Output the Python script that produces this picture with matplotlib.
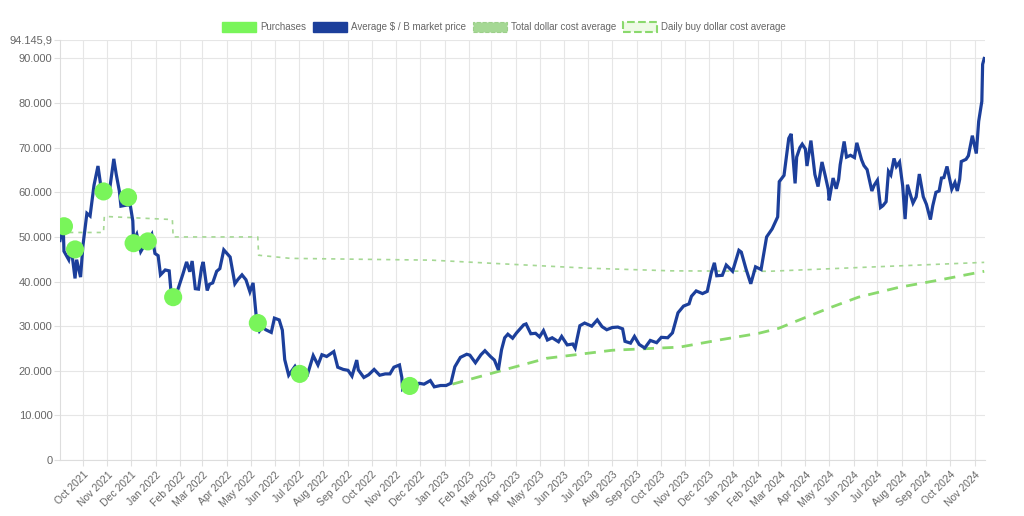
import numpy as np
import matplotlib
matplotlib.use('Agg')
import matplotlib.pyplot as plt
import matplotlib.dates as mdates
from matplotlib.patches import Patch
from matplotlib.ticker import FuncFormatter, FixedLocator

plt.rcParams['font.family'] = ['Liberation Sans', 'DejaVu Sans']

# market price, $ per bitcoin
price_dates = [
    '2021-09-02', '2021-09-06', '2021-09-07', '2021-09-13', '2021-09-16', '2021-09-21', '2021-09-23', '2021-09-28',
    '2021-10-01', '2021-10-06', '2021-10-10', '2021-10-15', '2021-10-20', '2021-10-24', '2021-10-27', '2021-10-31',
    '2021-11-04', '2021-11-09', '2021-11-12', '2021-11-16', '2021-11-18', '2021-11-24', '2021-11-28', '2021-11-30',
    '2021-12-03', '2021-12-04', '2021-12-08', '2021-12-13', '2021-12-16', '2021-12-21', '2021-12-27', '2021-12-31',
    '2022-01-04', '2022-01-07', '2022-01-13', '2022-01-18', '2022-01-21', '2022-01-24', '2022-01-28', '2022-02-04',
    '2022-02-09', '2022-02-13', '2022-02-16', '2022-02-20', '2022-02-24', '2022-02-28', '2022-03-02', '2022-03-07',
    '2022-03-10', '2022-03-14', '2022-03-19', '2022-03-23', '2022-03-28', '2022-04-01', '2022-04-05', '2022-04-11',
    '2022-04-15', '2022-04-20', '2022-04-25', '2022-04-30', '2022-05-04', '2022-05-09', '2022-05-12', '2022-05-16',
    '2022-05-20', '2022-05-27', '2022-05-31', '2022-06-06', '2022-06-10', '2022-06-13', '2022-06-18', '2022-06-22',
    '2022-06-26', '2022-06-30', '2022-07-06', '2022-07-12', '2022-07-19', '2022-07-25', '2022-07-30', '2022-08-05',
    '2022-08-14', '2022-08-19', '2022-08-26', '2022-09-01', '2022-09-06', '2022-09-12', '2022-09-14', '2022-09-21',
    '2022-09-27', '2022-10-04', '2022-10-11', '2022-10-18', '2022-10-24', '2022-10-29', '2022-11-05', '2022-11-08',
    '2022-11-09', '2022-11-14', '2022-11-21', '2022-11-30', '2022-12-06', '2022-12-14', '2022-12-19', '2022-12-27',
    '2023-01-03', '2023-01-09', '2023-01-14', '2023-01-21', '2023-01-29', '2023-02-02', '2023-02-09', '2023-02-16',
    '2023-02-21', '2023-02-28', '2023-03-05', '2023-03-10', '2023-03-14', '2023-03-18', '2023-03-22', '2023-03-28',
    '2023-04-02', '2023-04-11', '2023-04-14', '2023-04-20', '2023-04-26', '2023-05-01', '2023-05-06', '2023-05-11',
    '2023-05-17', '2023-05-25', '2023-05-29', '2023-06-05', '2023-06-12', '2023-06-15', '2023-06-21', '2023-06-27',
    '2023-07-06', '2023-07-13', '2023-07-19', '2023-07-25', '2023-08-01', '2023-08-08', '2023-08-14', '2023-08-17',
    '2023-08-24', '2023-08-29', '2023-09-04', '2023-09-11', '2023-09-18', '2023-09-26', '2023-10-02', '2023-10-10',
    '2023-10-16', '2023-10-23', '2023-10-30', '2023-11-06', '2023-11-09', '2023-11-15', '2023-11-23', '2023-11-29',
    '2023-12-04', '2023-12-08', '2023-12-11', '2023-12-18', '2023-12-23', '2023-12-31', '2024-01-08', '2024-01-11',
    '2024-01-17', '2024-01-23', '2024-01-29', '2024-02-05', '2024-02-12', '2024-02-19', '2024-02-26', '2024-02-28',
    '2024-03-05', '2024-03-11', '2024-03-14', '2024-03-19', '2024-03-21', '2024-03-25', '2024-03-28', '2024-04-01',
    '2024-04-03', '2024-04-08', '2024-04-13', '2024-04-17', '2024-04-22', '2024-04-26', '2024-04-30', '2024-05-01',
    '2024-05-06', '2024-05-10', '2024-05-13', '2024-05-15', '2024-05-20', '2024-05-23', '2024-05-28', '2024-06-02',
    '2024-06-05', '2024-06-11', '2024-06-14', '2024-06-18', '2024-06-24', '2024-06-27', '2024-07-01', '2024-07-05',
    '2024-07-08', '2024-07-12', '2024-07-15', '2024-07-18', '2024-07-22', '2024-07-25', '2024-07-29', '2024-08-02',
    '2024-08-05', '2024-08-08', '2024-08-12', '2024-08-15', '2024-08-19', '2024-08-23', '2024-08-28', '2024-09-01',
    '2024-09-06', '2024-09-09', '2024-09-13', '2024-09-17', '2024-09-20', '2024-09-23', '2024-09-27', '2024-09-30',
    '2024-10-03', '2024-10-07', '2024-10-10', '2024-10-13', '2024-10-15', '2024-10-21', '2024-10-24', '2024-10-29',
    '2024-11-03', '2024-11-06', '2024-11-10', '2024-11-11', '2024-11-13',
]
price_values = [
    49200, 52700, 46800, 44900, 47800, 40700, 44900, 41000,
    48100, 55300, 54700, 61600, 65900, 60900, 58400, 61300,
    61000, 67500, 64100, 60300, 56900, 57100, 57200, 56900,
    53600, 49200, 50600, 46700, 47600, 48900, 50600, 46300,
    45800, 41500, 42600, 42400, 36300, 36700, 37700, 41500,
    44400, 42200, 44600, 38400, 38300, 43200, 44400, 38000,
    39400, 39700, 42300, 42900, 47100, 46300, 45500, 39500,
    40500, 41500, 40400, 37700, 39700, 30300, 28900, 29800,
    29200, 28600, 31800, 31400, 29100, 22500, 19000, 20000,
    21000, 19800, 20500, 19300, 23400, 21300, 23600, 23200,
    24300, 20800, 20300, 20100, 18800, 22400, 20200, 18500,
    19100, 20300, 19000, 19300, 19300, 20800, 21300, 18500,
    15900, 16600, 15800, 17200, 17000, 17800, 16400, 16700,
    16700, 17200, 20900, 23000, 23700, 23500, 21800, 23600,
    24500, 23200, 22400, 20200, 24700, 27400, 28200, 27300,
    28500, 30300, 30500, 28300, 28400, 27600, 29000, 26900,
    27400, 26500, 27700, 25800, 26000, 25100, 30100, 30700,
    30000, 31400, 29900, 29200, 29700, 29800, 29400, 26600,
    26200, 27700, 25900, 25100, 26800, 26300, 27500, 27400,
    28500, 33000, 34500, 35000, 36700, 37900, 37300, 37800,
    41900, 44200, 41300, 41400, 43700, 42300, 47000, 46600,
    42800, 39500, 43300, 42700, 50000, 51800, 54500, 62400,
    63800, 72100, 73100, 62000, 67900, 70000, 70800, 69700,
    65900, 71600, 64000, 61300, 66800, 63800, 60600, 58200,
    63200, 60800, 62900, 66200, 71400, 67900, 68300, 67800,
    71100, 67300, 66000, 65100, 60300, 61600, 62700, 56600,
    57000, 57900, 64700, 63900, 67600, 65800, 66800, 61400,
    54000, 61700, 59300, 57600, 59000, 64100, 59000, 57300,
    53900, 57000, 60000, 60300, 63200, 63300, 65800, 63300,
    60700, 62200, 60300, 62900, 66900, 67400, 68200, 72700,
    68700, 75900, 80400, 88700, 90000,
]

# single purchases
buy_dates = ['2021-09-07', '2021-09-21', '2021-10-27', '2021-11-27', '2021-12-04',
             '2021-12-22', '2022-01-23', '2022-05-10', '2022-07-02', '2022-11-18']
buy_values = [52400, 47200, 60200, 58900, 48600, 49000, 36500, 30700, 19300, 16600]

# total dollar cost average
total_dates = ['2021-09-02', '2021-10-27', '2021-10-28', '2022-01-22', '2022-01-23', '2022-05-10',
               '2022-05-11', '2022-06-20', '2022-09-15', '2022-12-15', '2023-03-01', '2023-07-01',
               '2023-10-15', '2024-02-15', '2024-06-15', '2024-11-13']
total_values = [51000, 51000, 54600, 53900, 50000, 50000,
                45900, 45200, 45000, 44800, 44100, 43000,
                42400, 42300, 43200, 44300]

# daily buy dollar cost average
daily_dates = ['2023-01-11', '2023-03-11', '2023-05-10', '2023-08-01', '2023-10-25', '2023-12-14',
               '2024-02-02', '2024-02-27', '2024-03-23', '2024-04-30', '2024-06-07', '2024-07-28',
               '2024-09-16', '2024-11-13']
daily_values = [17000, 19900, 22800, 24600, 25300, 26900,
                28400, 29500, 31300, 34000, 36500, 38700,
                40300, 42300]

y_max = 94145.9

blue = '#1c3f9b'
green = '#79f55a'
total_green = '#a5d894'
daily_green = '#8ad96d'
grid = '#e6e6e6'
text_col = '#666666'

def to_dates(lst):
    return np.array(lst, dtype='datetime64[D]')

fig = plt.figure(figsize=(10.24, 5.16), dpi=100)
ax = fig.add_axes([60 / 1024, 1 - 460 / 516, 925 / 1024, 420 / 516])

ax.plot(to_dates(total_dates), total_values, color=total_green, lw=1.2, ls=(0, (2.5, 3)), zorder=2)
ax.plot(to_dates(daily_dates), daily_values, color=daily_green, lw=2.0, ls=(0, (4, 3)), zorder=2)
ax.plot(to_dates(price_dates), price_values, color=blue, lw=2.3, zorder=3, solid_joinstyle='miter')
ax.scatter(to_dates(buy_dates), buy_values, s=170, color=green, edgecolors='none', zorder=4)

ax.set_xlim(np.datetime64('2021-09-02'), np.datetime64('2024-11-14'))
ax.set_ylim(0, y_max)

yticks = list(range(0, 90001, 10000)) + [y_max]
ax.yaxis.set_major_locator(FixedLocator(yticks))

def fmt_de(v, pos):
    if abs(v - y_max) < 1:
        return '94.145,9'
    return f'{int(round(v)):,}'.replace(',', '.')

ax.yaxis.set_major_formatter(FuncFormatter(fmt_de))

ax.xaxis.set_major_locator(mdates.MonthLocator(bymonthday=1))
ax.xaxis.set_major_formatter(mdates.DateFormatter('%b %Y'))
for lab in ax.get_xticklabels():
    lab.set_rotation(45)
    lab.set_ha('right')
    lab.set_rotation_mode('anchor')

ax.grid(True, color=grid, lw=0.8)
ax.set_axisbelow(True)
for s in ['top', 'right']:
    ax.spines[s].set_visible(False)
for s in ['left', 'bottom']:
    ax.spines[s].set_color('#dddddd')
    ax.spines[s].set_linewidth(0.8)
ax.tick_params(axis='both', colors='#e0e0e0', labelcolor=text_col, labelsize=8, length=4, width=0.8)
ax.tick_params(axis='y', pad=1.5)
ax.tick_params(axis='x', labelsize=7.5, pad=3)

handles = [
    Patch(facecolor=green, edgecolor=green),
    Patch(facecolor=blue, edgecolor=blue),
    Patch(facecolor=total_green, edgecolor='#9ccf8a', linestyle='--', linewidth=0.8),
    Patch(facecolor='#eefae6', edgecolor=daily_green, linestyle='--', linewidth=1.5),
]
labels = ['Purchases', 'Average $ / B market price', 'Total dollar cost average', 'Daily buy dollar cost average']
leg = fig.legend(handles, labels, loc='center', bbox_to_anchor=(504 / 1024, 1 - 27 / 516), ncol=4,
                 frameon=False, fontsize=7, handlelength=3.5, handleheight=1.2,
                 handletextpad=0.4, columnspacing=0.7, borderaxespad=0)
for t in leg.get_texts():
    t.set_color(text_col)

fig.savefig('out.png', dpi=100)
